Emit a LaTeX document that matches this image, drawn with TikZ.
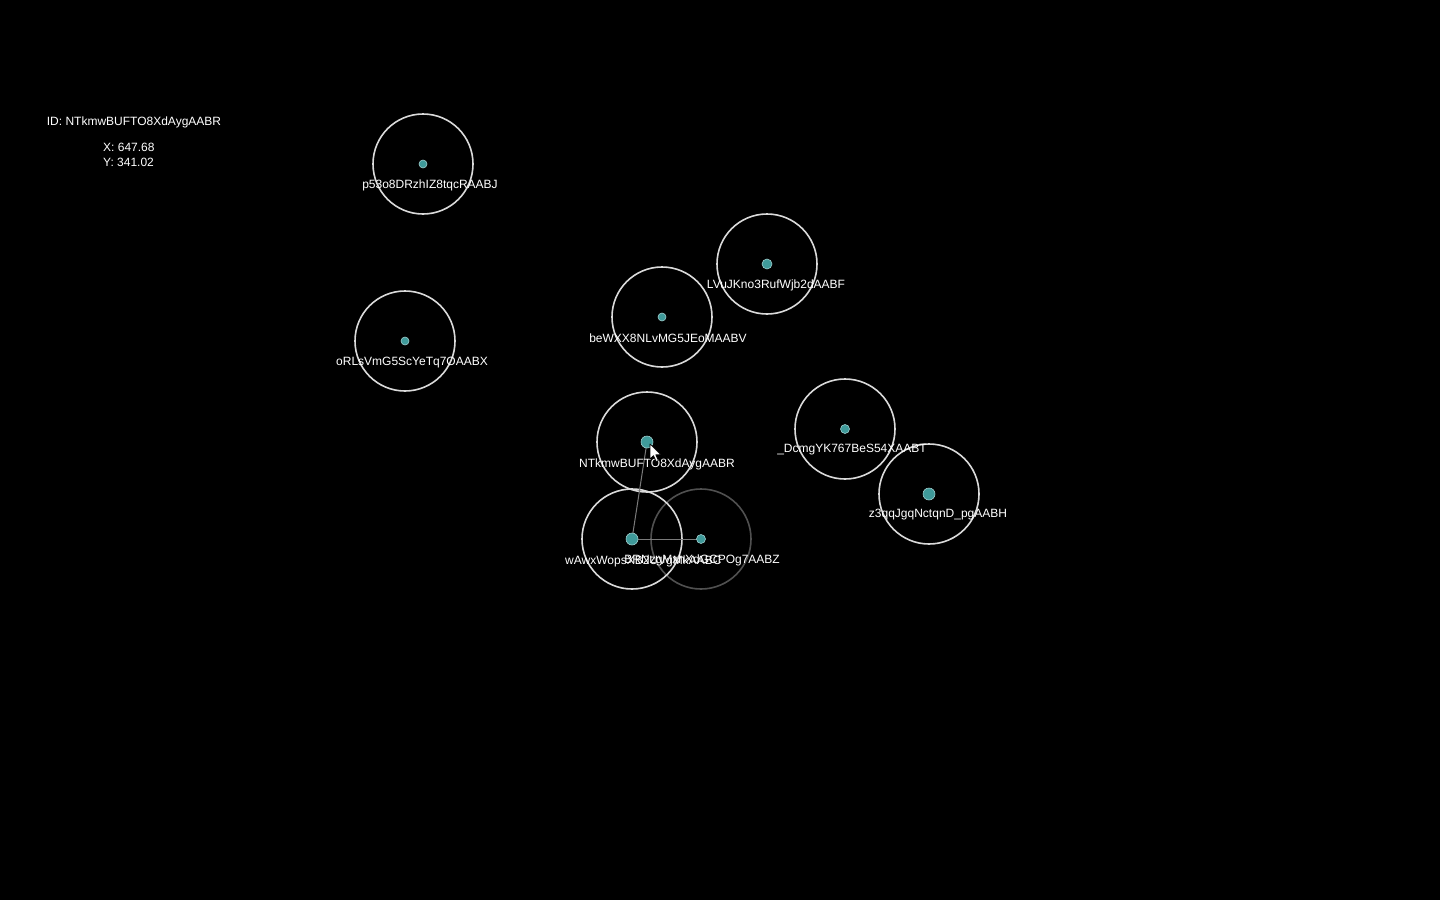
\documentclass[tikz,border=0pt]{standalone}
\usepackage{fontspec}
\setmainfont{Liberation Sans}
\begin{document}
\begin{tikzpicture}[x=1pt,y=-1pt,
  ring/.style={draw=ringc,line width=1.6pt,fill=none,circle,minimum size=100pt,inner sep=0pt},
  fadering/.style={draw=fadec,line width=1.6pt,fill=none,circle,minimum size=100pt,inner sep=0pt},
  dot/.style={circle,fill=dotc,draw=dotedge,line width=0.6pt,minimum size=8pt,inner sep=0pt},
  bigdot/.style={dot,minimum size=12pt},
  lbl/.style={text=white,font=\fontsize{12}{14}\selectfont,inner sep=0pt},
  info/.style={text=white,font=\fontsize{12}{14}\selectfont,inner sep=0pt},
  link/.style={draw=linkc,line width=1pt}]
\definecolor{ringc}{HTML}{DADADA}
\definecolor{fadec}{HTML}{505050}
\definecolor{dotc}{HTML}{3F9A9A}
\definecolor{dotedge}{HTML}{9FCFCF}
\definecolor{linkc}{HTML}{7A7A7A}
\fill[black] (0,0) rectangle (1440,900);
\useasboundingbox (0,0) rectangle (1440,900);

\begin{scope}[shift={(0,1)}]
% info panel
\node[info] (infoid) at (134,121) {ID: NTkmwBUFTO8XdAygAABR};
\node[info,anchor=west] (infox) at (103,146) {X: 647.68};
\node[info,anchor=west] (infoy) at (103,161) {Y: 341.02};

% rings
\node[ring] (rp53) at (423,163) {};
\node[ring] (rorl) at (405,340) {};
\node[ring] (rlvu) at (767,263) {};
\node[ring] (rbew) at (662,316) {};
\node[ring] (rntk) at (647,441) {};
\node[ring] (rdcm) at (845,428) {};
\node[ring] (rz3q) at (929,493) {};
\node[fadering] (r6rn) at (701,538) {};
\node[ring] (rwaw) at (632,538) {};

% links
\draw[link] (rntk.center) -- (rwaw.center);
\draw[link] (rwaw.center) -- (r6rn.center);

% dots
\node[dot] (dp53) at (rp53.center) {};
\node[dot] (dorl) at (rorl.center) {};
\node[bigdot,minimum size=10pt] (dlvu) at (rlvu.center) {};
\node[dot] (dbew) at (rbew.center) {};
\node[bigdot] (dntk) at (rntk.center) {};
\node[dot,minimum size=9pt] (ddcm) at (rdcm.center) {};
\node[bigdot] (dz3q) at (rz3q.center) {};
\node[dot,minimum size=9pt] (d6rn) at (r6rn.center) {};
\node[bigdot] (dwaw) at (rwaw.center) {};

% labels
\node[lbl] (lp53) at (430,184) {p53o8DRzhIZ8tqcRAABJ};
\node[lbl] (lorl) at (412,362) {oRLsVmG5ScYeTq7OAABX};
\node[lbl] (llvu) at (776,284) {LVuJKno3RufWjb2dAABF};
\node[lbl] (lbew) at (668,337) {beWXX8NLvMG5JEoMAABV};
\node[lbl] (lntk) at (657,463) {NTkmwBUFTO8XdAygAABR};
\node[lbl] (ldcm) at (852,449) {\_DcmgYK767BeS54XAABT};
\node[lbl] (lz3q) at (938,514) {z3qqJgqNctqnD\_pgAABH};
\node[lbl,anchor=west] (lwaw) at (565,560) {wAwxWopsXB2UVgMkAABC};
\node[lbl,anchor=east] (l6rn) at (780,559) {BRNzgMxhXdGCPOg7AABZ};

% mouse cursor
\coordinate (cur) at (650,443);
\filldraw[fill=white,draw=black,line width=0.7pt,line join=round]
  (cur) -- ++(0,15) -- ++(3.5,-3.4) -- ++(2.6,6) -- ++(2.3,-1) -- ++(-2.6,-5.8) -- ++(5,0) -- cycle;
\end{scope}
\end{tikzpicture}
\end{document}
